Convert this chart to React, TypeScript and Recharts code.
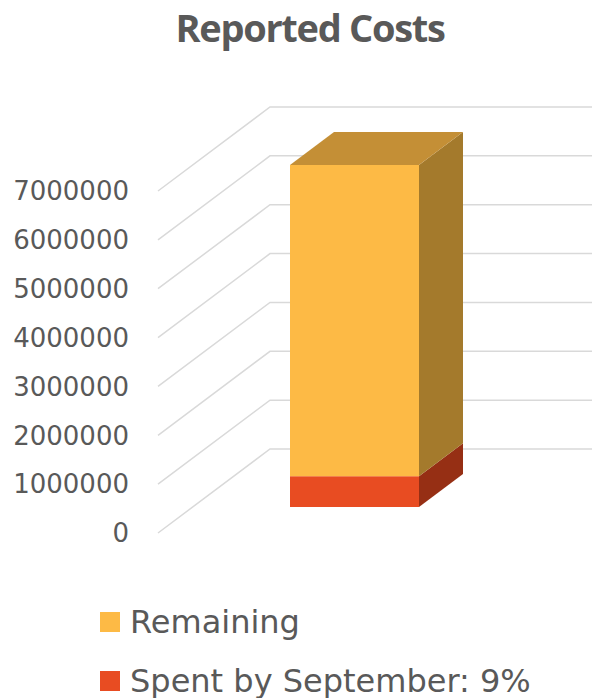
import { BarChart, Bar, XAxis, YAxis, CartesianGrid, Legend } from "recharts";

const CATEGORIES = ["Reported Costs"];
const SPENT = [630000];
const REMAINING = [6370000];
const Y_TICKS = [0, 1000000, 2000000, 3000000, 4000000, 5000000, 6000000, 7000000];

const SERIES = [
  { key: "spent", name: "Spent by September: 9%", front: "#E84C22", side: "#962F14", top: "#C0401C" },
  { key: "remaining", name: "Remaining", front: "#FDBA45", side: "#A47A2C", top: "#C48F36" },
];

const data = CATEGORIES.map((c, i) => ({ name: c, spent: SPENT[i], remaining: REMAINING[i] }));

// oblique "3d" offsets
const WALL_DX = 112;
const WALL_DY = -84;
const BAR_DX = 35;
const BAR_DY = -26;
const DEPTH_DX = 44;
const DEPTH_DY = -33;

const GREY = "#595959";
const FONT = "'DejaVu Sans', sans-serif";

function gridLine(props: any) {
  const { x1, y1, x2, index } = props;
  const d = `M${x1},${y1} L${x1 + WALL_DX},${y1 + WALL_DY} L${x2 + WALL_DX},${y1 + WALL_DY}`;
  return <path key={`g-${index}`} d={d} stroke="#D9D9D9" strokeWidth={1.5} fill="none" />;
}

function box(s: (typeof SERIES)[number], withTop: boolean) {
  return (props: any) => {
    const { x, y, width, height } = props;
    if (!height) return <g />;
    const fx = x + BAR_DX;
    const fy = y + BAR_DY;
    const side = `${fx + width},${fy} ${fx + width + DEPTH_DX},${fy + DEPTH_DY} ${fx + width + DEPTH_DX},${fy + height + DEPTH_DY} ${fx + width},${fy + height}`;
    const top = `${fx},${fy} ${fx + DEPTH_DX},${fy + DEPTH_DY} ${fx + width + DEPTH_DX},${fy + DEPTH_DY} ${fx + width},${fy}`;
    return (
      <g>
        <rect x={fx} y={fy} width={width} height={height} fill={s.front} />
        <polygon points={side} fill={s.side} />
        {withTop && <polygon points={top} fill={s.top} />}
      </g>
    );
  };
}

function LegendBox() {
  const items = [...SERIES].reverse();
  return (
    <div style={{ fontFamily: FONT }}>
      {items.map((s) => (
        <div key={s.key} style={{ display: "flex", alignItems: "center", height: 59 }}>
          <span style={{ width: 20, height: 20, background: s.front, marginRight: 10, display: "inline-block" }} />
          <span style={{ fontSize: 32, color: GREY, lineHeight: "40px" }}>{s.name}</span>
        </div>
      ))}
    </div>
  );
}

export default function App() {
  return (
    <div style={{ position: "absolute", left: 0, top: 0, width: 592, height: 698, background: "#fff" }}>
      <div
        style={{
          position: "absolute",
          left: 0,
          width: 620,
          top: 1,
          textAlign: "center",
          fontFamily: "'Open Sans', sans-serif",
          fontWeight: 700,
          fontSize: 38,
          letterSpacing: -1.3,
          color: GREY,
          lineHeight: "52px",
          whiteSpace: "nowrap",
        }}
      >
        Reported Costs
      </div>
      <BarChart width={592} height={698} data={data} margin={{ top: 191, right: 112, bottom: 165, left: 0 }}>
        <CartesianGrid vertical={false} horizontal={gridLine} />
        <XAxis dataKey="name" hide />
        <YAxis
          width={158}
          domain={[0, 7000000]}
          ticks={Y_TICKS}
          interval={0}
          axisLine={false}
          tickLine={false}
          tickSize={0}
          tickMargin={29}
          tick={{ fill: GREY, fontSize: 26, fontFamily: FONT }}
        />
        {SERIES.map((s, i) => (
          <Bar
            key={s.key}
            dataKey={s.key}
            name={s.name}
            stackId="a"
            barSize={129}
            fill={s.front}
            isAnimationActive={false}
            shape={box(s, i === SERIES.length - 1)}
          />
        ))}
        <Legend
          layout="vertical"
          verticalAlign="middle"
          align="center"
          content={() => <LegendBox />}
          wrapperStyle={{ left: 100, top: 592, width: 480, height: 120 }}
        />
      </BarChart>
    </div>
  );
}
